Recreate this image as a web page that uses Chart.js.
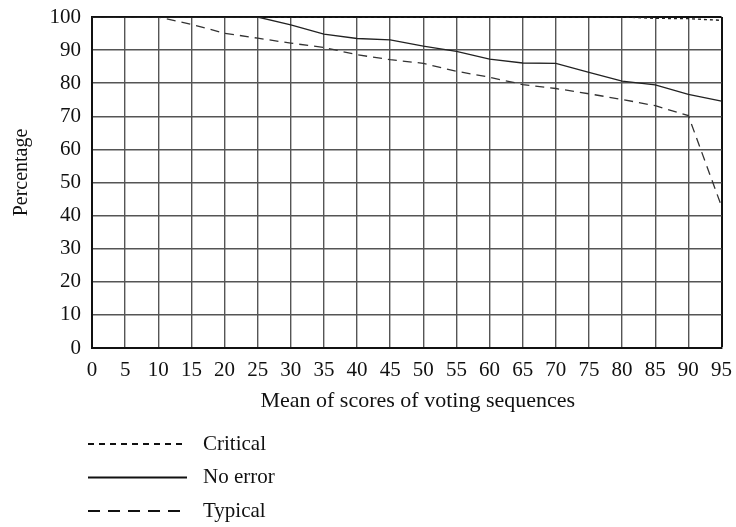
<!DOCTYPE html>
<html>
<head>
<meta charset="utf-8">
<script src="https://cdn.jsdelivr.net/npm/chart.js@4.4.1/dist/chart.umd.min.js"></script>
<style>
  body { margin: 0; background: #fff; }
  #wrap { width: 736px; height: 527px; }
</style>
</head>
<body>
<div id="wrap"><canvas id="chart1" width="736" height="527"></canvas></div>
<script>
// data
var x_values = [0, 5, 10, 15, 20, 25, 30, 35, 40, 45, 50, 55, 60, 65, 70, 75, 80, 85, 90, 95];
var series_names = ["Critical", "No error", "Typical"];
var critical = [100, 100, 100, 100, 100, 100, 100, 100, 100, 100, 100, 100, 100, 100, 100, 100, 100, 99.6, 99.5, 99];
var no_error = [100, 100, 100, 100, 100, 100, 97.6, 94.8, 93.5, 93.1, 91.2, 89.6, 87.3, 86.1, 86.0, 83.3, 80.6, 79.5, 76.6, 74.6];
var typical = [100, 100, 100, 97.8, 95.1, 93.6, 92.1, 90.8, 88.6, 87.1, 86.0, 83.6, 81.8, 79.6, 78.4, 76.8, 75.1, 73.2, 70.2, 42.8];

var FONT = "'Liberation Serif', 'Times New Roman', serif";

function pts(arr) {
  return arr.map(function (v, i) { return { x: x_values[i], y: v }; });
}

// legend samples use their own dash lengths, like the printed figure
var legendDash = [[6, 5], [], [12, 8]];

var legendPlugin = {
  id: 'sideLegend',
  afterDraw: function (chart) {
    var ctx = chart.ctx;
    ctx.save();
    chart.data.datasets.forEach(function (ds, i) {
      var y = 444 + i * 33.5;
      ctx.beginPath();
      ctx.setLineDash(legendDash[i]);
      ctx.strokeStyle = '#111';
      ctx.lineWidth = 2;
      ctx.moveTo(88, y);
      ctx.lineTo(187, y);
      ctx.stroke();
      ctx.setLineDash([]);
      ctx.fillStyle = '#111';
      ctx.font = '21px ' + FONT;
      ctx.textBaseline = 'middle';
      ctx.fillText(ds.label, 203, y);
    });
    ctx.restore();
  }
};

var edgeColor = function (max) {
  return function (c) { return (c.tick && c.tick.value === max) ? '#111' : '#555'; };
};
var edgeWidth = function (max) {
  return function (c) { return (c.tick && c.tick.value === max) ? 2 : 1.4; };
};

var chart = new Chart(document.getElementById("chart1").getContext('2d'), {
  type: 'line',
  data: {
    datasets: [
      { label: series_names[0], data: pts(critical), borderColor: '#222', borderWidth: 1.4, borderDash: [3, 3], pointRadius: 0, tension: 0 },
      { label: series_names[1], data: pts(no_error), borderColor: '#222', borderWidth: 1.3, pointRadius: 0, tension: 0 },
      { label: series_names[2], data: pts(typical), borderColor: '#333', borderWidth: 1.3, borderDash: [9, 6], pointRadius: 0, tension: 0 }
    ]
  },
  options: {
    responsive: false,
    animation: false,
    layout: { padding: { top: 17, right: 14.5, bottom: 113, left: 10 } },
    plugins: { legend: { display: false }, tooltip: { enabled: false } },
    scales: {
      x: {
        type: 'linear',
        min: 0, max: 95,
        ticks: { stepSize: 5, padding: 10, color: '#111', font: { family: FONT, size: 21 } },
        grid: { color: edgeColor(95), lineWidth: edgeWidth(95), drawTicks: false },
        border: { color: '#111', width: 2 },
        title: { display: true, text: '    Mean of scores of voting sequences', color: '#111', padding: { top: 0, bottom: 0 }, font: { family: FONT, size: 22 } },
        afterFit: function (scale) { scale.height = 66; scale.paddingLeft = 0; scale.paddingRight = 0; }
      },
      y: {
        min: 0, max: 100,
        ticks: { stepSize: 10, padding: 11, color: '#111', font: { family: FONT, size: 21 } },
        grid: { color: edgeColor(100), lineWidth: edgeWidth(100), drawTicks: false },
        border: { color: '#111', width: 2 },
        title: { display: true, text: '    Percentage', color: '#111', padding: 0, font: { family: FONT, size: 20 } },
        afterFit: function (scale) { scale.width = 82; scale.paddingTop = 0; scale.paddingBottom = 0; }
      }
    }
  },
  plugins: [legendPlugin]
});
</script>
</body>
</html>
